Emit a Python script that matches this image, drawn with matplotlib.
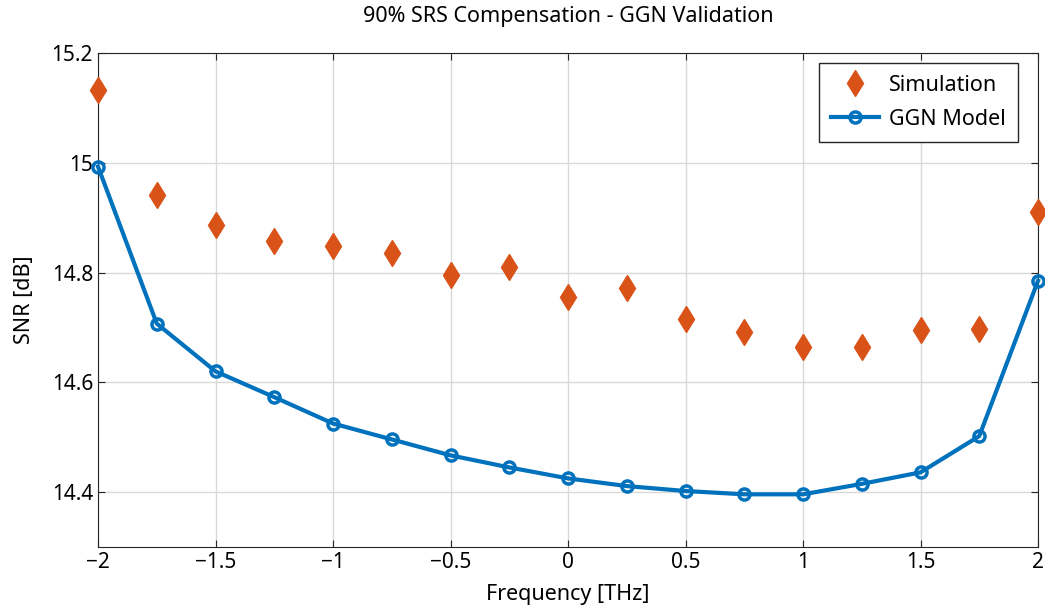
import numpy as np
import matplotlib.pyplot as plt

plt.rcParams['font.family'] = ['Noto Sans', 'DejaVu Sans']

freq = [-2, -1.75, -1.5, -1.25, -1, -0.75, -0.5, -0.25, 0, 0.25, 0.5, 0.75, 1, 1.25, 1.5, 1.75, 2]
snr_sim = [15.133, 14.942, 14.887, 14.858, 14.849, 14.835, 14.795, 14.811, 14.756,
           14.771, 14.715, 14.691, 14.664, 14.664, 14.696, 14.698, 14.911]
snr_ggn = [14.993, 14.707, 14.620, 14.573, 14.525, 14.496, 14.467, 14.445, 14.425,
           14.411, 14.402, 14.396, 14.396, 14.415, 14.436, 14.502, 14.785]

fig = plt.figure(figsize=(10.45, 6.12), dpi=100)
ax = fig.add_axes([0.0938, 0.1062, 0.8995, 0.8072])

ax.plot(freq, snr_sim, 'd', color='#D95319', markersize=13, label='Simulation',
        clip_on=False, zorder=4)
ax.plot(freq, snr_ggn, '-o', color='#0072BD', linewidth=3, markersize=8,
        markerfacecolor='none', markeredgewidth=2.5, label='GGN Model',
        clip_on=False, zorder=3)

ax.set_xlim(-2, 2)
ax.set_ylim(14.3, 15.2)
ax.set_xticks(np.arange(-2, 2.01, 0.5))
ax.set_xticklabels(['\u22122', '\u22121.5', '\u22121', '\u22120.5', '0', '0.5', '1', '1.5', '2'])
ax.set_yticks([14.4, 14.6, 14.8, 15, 15.2])
ax.set_yticklabels(['14.4', '14.6', '14.8', '15', '15.2'])
ax.tick_params(direction='in', labelsize=15, length=5, color='#262626', top=True, right=True)
ax.grid(True, color='#d9d9d9', linewidth=1)
ax.set_axisbelow(True)
for s in ax.spines.values():
    s.set_color('#262626')

ax.set_xlabel('Frequency [THz]', fontsize=15.5, labelpad=8)
ax.set_ylabel('SNR [dB]', fontsize=15.5, labelpad=12)
ax.set_title('90% SRS Compensation - GGN Validation', fontsize=15.5, pad=22)

leg = ax.legend(loc='upper right', fontsize=15.5, fancybox=False, framealpha=1,
                edgecolor='#262626', borderaxespad=0, borderpad=0.55,
                labelspacing=0.6, handletextpad=0.5, handlelength=2.2,
                bbox_to_anchor=(0.9787, 0.9798))
leg.get_frame().set_linewidth(1)

fig.savefig('out.png', dpi=100)
